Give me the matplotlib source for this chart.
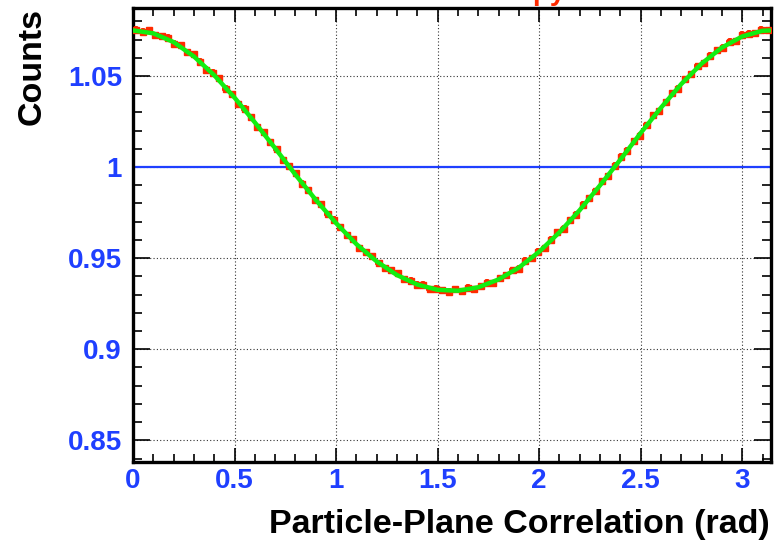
import numpy as np
import matplotlib
matplotlib.use('Agg')
import matplotlib.pyplot as plt
from matplotlib.ticker import MultipleLocator, FixedLocator, FuncFormatter

plt.rcParams['font.family'] = ['Liberation Sans', 'DejaVu Sans']
plt.rcParams['font.weight'] = 'bold'

#==========================================================
# histogram: 100 bins over [0, pi], contents
n_bins = 100
counts = [
    1.0754, 1.0743, 1.0752, 1.0723, 1.0720, 1.0710, 1.0677, 1.0668, 1.0630, 1.0619,
    1.0579, 1.0535, 1.0518, 1.0487, 1.0430, 1.0400, 1.0346, 1.0321, 1.0272, 1.0220,
    1.0192, 1.0136, 1.0099, 1.0037, 1.0006, 0.9966, 0.9909, 0.9875, 0.9819, 0.9797,
    0.9741, 0.9712, 0.9669, 0.9626, 0.9606, 0.9554, 0.9534, 0.9510, 0.9473, 0.9444,
    0.9434, 0.9416, 0.9383, 0.9376, 0.9355, 0.9355, 0.9329, 0.9333, 0.9326, 0.9316,
    0.9330, 0.9319, 0.9338, 0.9331, 0.9348, 0.9365, 0.9362, 0.9392, 0.9408, 0.9435,
    0.9443, 0.9487, 0.9500, 0.9535, 0.9554, 0.9602, 0.9642, 0.9662, 0.9708, 0.9738,
    0.9793, 0.9829, 0.9866, 0.9923, 0.9949, 1.0007, 1.0057, 1.0090, 1.0144, 1.0172,
    1.0231, 1.0283, 1.0307, 1.0358, 1.0405, 1.0430, 1.0481, 1.0509, 1.0554, 1.0570,
    1.0611, 1.0643, 1.0655, 1.0689, 1.0692, 1.0727, 1.0733, 1.0735, 1.0754, 1.0753,
]
count_err = 0.0018

fit_x = [0.0, 0.1, 0.2, 0.3, 0.4, 0.5, 0.6, 0.7, 0.8, 0.9, 1.0, 1.1, 1.2, 1.3, 1.4, 1.5,
         1.6, 1.7, 1.8, 1.9, 2.0, 2.1, 2.2, 2.3, 2.4, 2.5, 2.6, 2.7, 2.8, 2.9, 3.0, 3.1, 3.1416]
fit_y = [1.0750, 1.0734, 1.0686, 1.0607, 1.0504, 1.0381, 1.0245, 1.0103, 0.9958, 0.9820,
         0.9692, 0.9577, 0.9482, 0.9407, 0.9355, 0.9326, 0.9321, 0.9340, 0.9383, 0.9448,
         0.9535, 0.9642, 0.9764, 0.9900, 1.0041, 1.0187, 1.0326, 1.0456, 1.0568, 1.0656,
         1.0717, 1.0748, 1.0750]

ref_level = 1.0
x_ticks = [0, 0.5, 1, 1.5, 2, 2.5, 3]
y_ticks = [0.85, 0.9, 0.95, 1, 1.05]

#==========================================================
fig = plt.figure(figsize=(7.75, 5.48), dpi=100)
ax = fig.add_axes([133/775, 1-462/548, (771-133)/775, (462-8)/548])

edges = np.linspace(0, np.pi, n_bins + 1)
centers = 0.5 * (edges[:-1] + edges[1:])
half_w = 0.5 * (edges[1] - edges[0])

red = '#ff2a00'
ax.errorbar(centers, counts, xerr=half_w, yerr=count_err, fmt='s', ms=4.5,
            color=red, mec=red, elinewidth=2.6, capsize=0, zorder=3)
ax.axhline(ref_level, color='#1f3fff', lw=1.6, zorder=2)
ax.plot(fit_x, fit_y, color='#11ee11', lw=3.2, zorder=4, solid_capstyle='round')

ax.set_xlim(0, np.pi)
ax.set_ylim(0.8381, 1.0873)

ax.xaxis.set_major_locator(FixedLocator(x_ticks))
ax.xaxis.set_minor_locator(MultipleLocator(0.1))
ax.yaxis.set_major_locator(FixedLocator(y_ticks))
ax.yaxis.set_minor_locator(MultipleLocator(0.01))
fmt = FuncFormatter(lambda v, p: '%g' % v)
ax.xaxis.set_major_formatter(fmt)
ax.yaxis.set_major_formatter(fmt)

ax.grid(True, which='major', color='#333333', linestyle=(0, (1, 2)), linewidth=0.8)

blue = '#1f3fff'
ax.tick_params(axis='x', which='major', direction='in', top=True, length=10, width=1.2,
               labelsize=20, labelcolor=blue, pad=4)
ax.tick_params(axis='x', which='minor', direction='in', top=True, length=5.5, width=1.2)
ax.tick_params(axis='y', which='major', direction='in', right=True, length=12.5, width=1.2,
               labelsize=20, labelcolor=blue, pad=8)
ax.tick_params(axis='y', which='minor', direction='in', right=True, length=6.5, width=1.2)
for lab in ax.get_xticklabels() + ax.get_yticklabels():
    lab.set_fontweight('bold')

for sp in ax.spines.values():
    sp.set_linewidth(2.4)

fig.text(770/775, 1 - 525/548, 'Particle-Plane Correlation (rad)', ha='right', va='center',
         fontsize=24.5, fontweight='bold', color='black')
fig.text(32/775, 1 - 8/548, 'Counts', ha='center', va='top', rotation=90,
         fontsize=24.5, fontweight='bold', color='black')
fig.text(566/775, 1.0, 'Anisotropy', ha='right', va='baseline',
         fontsize=20, fontweight='bold', color=red)

fig.savefig('out.png', dpi=100)
